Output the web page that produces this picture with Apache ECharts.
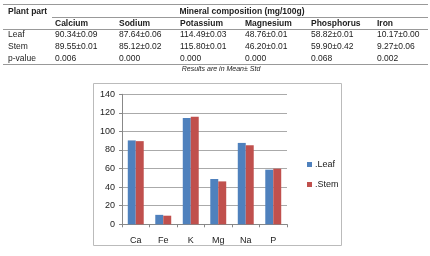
<!DOCTYPE html>
<html><head><meta charset="utf-8">
<script src="https://cdn.jsdelivr.net/npm/echarts@6/dist/echarts.min.js"></script>
<style>html,body{margin:0;padding:0;background:#fff}#c{width:430px;height:256px}</style>
</head><body><div id="c"></div>
<script>
// Table data
const tableColumns = ["Calcium","Sodium","Potassium","Magnesium","Phosphorus","Iron"];
const rowLabels = ["Leaf","Stem","p-value"];
const leafRow = ["90.34±0.09","87.64±0.06","114.49±0.03","48.76±0.01","58.82±0.01","10.17±0.00"];
const stemRow = ["89.55±0.01","85.12±0.02","115.80±0.01","46.20±0.01","59.90±0.42","9.27±0.06"];
const pRow = ["0.006","0.000","0.000","0.000","0.068","0.002"];
// Chart data
const categories = ["Ca","Fe","K","Mg","Na","P"];
const leafValues = [90.34,10.17,114.49,48.76,87.64,58.82];
const stemValues = [89.55,9.27,115.80,46.20,85.12,59.90];
const seriesNames = [".Leaf",".Stem"];

const F = 'Arial, "Liberation Sans", sans-serif';
const colX = [55,119,180,245,311,377];
const g = [];
function line(x1,y1,x2,y2,c){g.push({type:'line',shape:{x1,y1,x2,y2},style:{stroke:c||'#999',lineWidth:1}});}
function txt(t,x,y,opt){g.push({type:'text',x,y,style:Object.assign({text:t,fill:'#222',font:'8.5px '+F,textVerticalAlign:'middle'},opt||{})});}
line(3,4.5,428,4.5,'#999');
line(52,17.5,428,17.5,'#999');
line(3,29.5,428,29.5,'#999');
line(3,64.5,428,64.5,'#999');
txt("Plant part",8,11.5,{font:'bold 8.5px '+F});
txt("Mineral composition (mg/100g)",242,11.5,{font:'bold 8.5px '+F,textAlign:'center'});
tableColumns.forEach((c,i)=>txt(c,colX[i],23.5,{font:'bold 8.5px '+F}));
[leafRow,stemRow,pRow].forEach((row,r)=>{
  txt(rowLabels[r],8,35+r*11.7);
  row.forEach((v,i)=>txt(v,colX[i],35+r*11.7));
});
txt("Results are in Mean± Std",221,69.5,{font:'italic 7px '+F,textAlign:'center'});
g.push({type:'rect',shape:{x:93.5,y:83.5,width:248,height:162},style:{fill:'none',stroke:'#bbb',lineWidth:1},z:-1});

const chart = echarts.init(document.getElementById('c'));
chart.setOption({
  animation:false,
  graphic:g,
  grid:{left:122,top:94.3,width:165,height:130,containLabel:false},
  legend:{orient:'vertical',left:302,top:155,itemWidth:5,itemHeight:5,itemGap:11,icon:'rect',
    textStyle:{fontSize:9,fontFamily:F,color:'#222',padding:[0,0,0,-2]},data:seriesNames},
  xAxis:{type:'category',data:categories,
    axisLine:{lineStyle:{color:'#888'}},
    axisTick:{show:true,length:3,lineStyle:{color:'#888'}},
    axisLabel:{fontSize:9,fontFamily:F,color:'#222',margin:12}},
  yAxis:{type:'value',min:0,max:140,interval:20,
    axisLine:{show:true,lineStyle:{color:'#888'}},
    axisTick:{show:true,length:3,lineStyle:{color:'#888'}},
    splitLine:{lineStyle:{color:'#aaa'}},
    axisLabel:{fontSize:9,fontFamily:F,color:'#222',margin:7}},
  series:[
    {name:seriesNames[0],type:'bar',data:leafValues,barGap:'0%',barCategoryGap:'42%',itemStyle:{color:'#4F81BD'}},
    {name:seriesNames[1],type:'bar',data:stemValues,itemStyle:{color:'#C0504D'}}
  ]
});
</script></body></html>
